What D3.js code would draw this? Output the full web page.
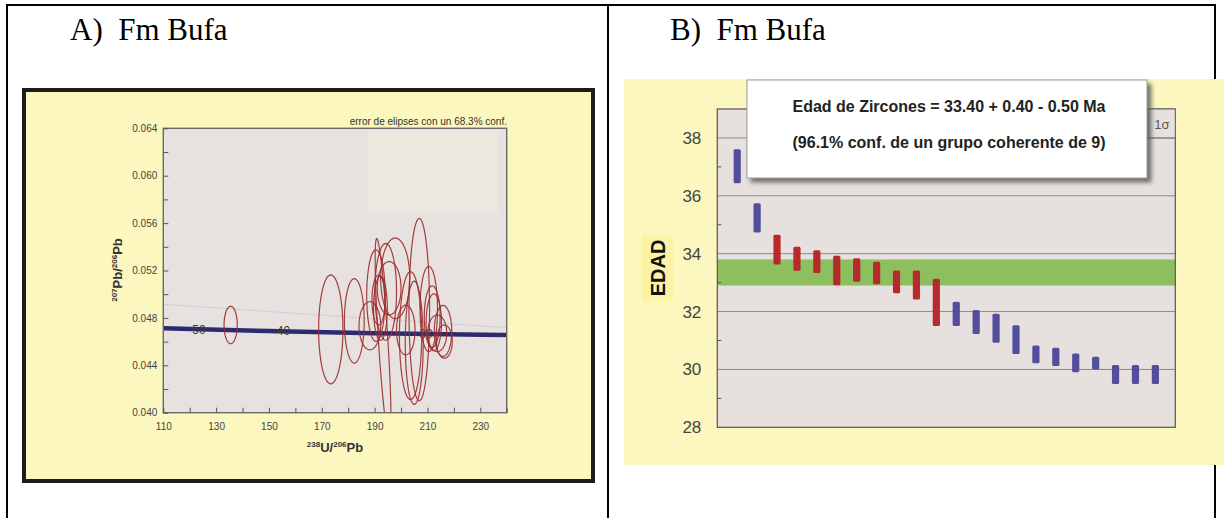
<!DOCTYPE html>
<html lang="en">
<head>
<meta charset="UTF-8">
<title>Fm Bufa</title>
<script src="https://d3js.org/d3.v7.min.js"></script>
<style>
    body { margin: 0; background: #fff; }
    svg { display: block; }
    .serif { font-family: "Liberation Serif", "Times New Roman", serif; }
    .sans { font-family: "Liberation Sans", Arial, sans-serif; }
</style>
</head>
<body>
<svg id="chart" width="1224" height="518"></svg>
<script>
    // ---- panel A: Tera-Wasserburg concordia ----
    const xTicksA = [110, 130, 150, 170, 190, 210, 230];
    const yTicksA = [0.040, 0.044, 0.048, 0.052, 0.056, 0.060, 0.064];

    const concordiaX = [110, 150, 190, 240];
    const concordiaY = [0.04712, 0.04689, 0.04670, 0.04656];
    const refLineX = [110, 240];
    const refLineY = [0.04915, 0.04717];

    const ageLabels = ["50", "40", "30"];
    const ageLabelX = [123.5, 155.5, 209.5];

    // ellipse centres, half-widths and correlation
    const ellX   = [135.5, 173.4, 182.3, 188.2, 190.5, 191.5, 194.2, 195.5, 197.8, 193.2, 192.2, 201.8, 203.6, 205.0, 206.9, 210.5, 211.8, 212.4, 213.7, 215.9, 216.4];
    const ellY   = [0.0474, 0.04703, 0.04775, 0.04734, 0.04988, 0.04951, 0.0502, 0.0505, 0.05134, 0.0462, 0.0488, 0.04698, 0.0465, 0.0459, 0.0487, 0.04875, 0.0481, 0.04763, 0.0467, 0.0469, 0.0460];
    const ellRx  = [2.5, 4.6, 3.75, 4.1, 3.5, 2.5, 4.1, 4.5, 5.5, 3.0, 2.6, 3.5, 4.2, 3.4, 3.9, 3.3, 3.0, 2.9, 3.6, 3.3, 3.0];
    const ellRy  = [0.00158, 0.0046, 0.00356, 0.00203, 0.00386, 0.0021, 0.00408, 0.00225, 0.0034, 0.0085, 0.0027, 0.0021, 0.0054, 0.0052, 0.0077, 0.0036, 0.0026, 0.0024, 0.00155, 0.00215, 0.0014];
    const ellRho = [0, 0, 0, 0, 0, 0, 0, 0, 0, -0.8, 0, 0, 0, 0, 0, 0, 0, 0, 0, 0, 0];

    // ---- panel B: ages ----
    const barLow  = [36.43, 34.73, 33.63, 33.41, 33.33, 32.91, 33.03, 32.94, 32.63, 32.42, 31.50, 31.50, 31.22, 30.92, 30.53, 30.21, 30.12, 29.90, 30.00, 29.50, 29.50, 29.50];
    const barHigh = [37.61, 35.74, 34.65, 34.24, 34.12, 33.93, 33.84, 33.72, 33.42, 33.42, 33.13, 32.34, 32.05, 31.92, 31.53, 30.83, 30.75, 30.55, 30.44, 30.15, 30.15, 30.15];
    const barUsed = [false, false, true, true, true, true, true, true, true, true, true, false, false, false, false, false, false, false, false, false, false, false];
    const meanAge = [32.9, 33.8];
    const yTicksB = [28, 30, 32, 34, 36, 38];
    const yMinorB = [29, 31, 33, 35, 37];
    const gridB = [30, 32, 34, 36, 38];

    const yellow = "#fbf7be";
    const svg = d3.select("#chart");

    const defs = svg.append("defs");
    const shadow = defs.append("filter").attr("id", "shadow")
        .attr("x", "-5%").attr("y", "-10%").attr("width", "115%").attr("height", "130%");
    shadow.append("feDropShadow").attr("dx", 4).attr("dy", 4)
        .attr("stdDeviation", 2).attr("flood-color", "#555").attr("flood-opacity", 0.8);
    defs.append("clipPath").attr("id", "clipA").append("rect")
        .attr("x", 163.3).attr("y", 128.3).attr("width", 343.4).attr("height", 284.4);

    // table borders
    const table = svg.append("g").attr("stroke", "#000").attr("stroke-width", 2);
    table.append("line").attr("x1", 7).attr("x2", 1216).attr("y1", 5).attr("y2", 5);
    table.append("line").attr("x1", 7).attr("x2", 7).attr("y1", 4).attr("y2", 518);
    table.append("line").attr("x1", 608).attr("x2", 608).attr("y1", 4).attr("y2", 518);
    table.append("line").attr("x1", 1215).attr("x2", 1215).attr("y1", 4).attr("y2", 518);

    svg.append("text").attr("class", "serif").attr("x", 70).attr("y", 40)
        .attr("font-size", 31).attr("xml:space", "preserve").text("A)  Fm Bufa");
    svg.append("text").attr("class", "serif").attr("x", 670).attr("y", 40)
        .attr("font-size", 31).attr("xml:space", "preserve").text("B)  Fm Bufa");

    // ================= panel A =================
    const gA = svg.append("g").attr("class", "sans");
    gA.append("rect").attr("x", 24).attr("y", 90).attr("width", 569).attr("height", 391)
        .attr("fill", yellow).attr("stroke", "#1c1c1c").attr("stroke-width", 4);

    const xA = d3.scaleLinear().domain([110, 240]).range([163.3, 506.7]);
    const yA = d3.scaleLinear().domain([0.040, 0.064]).range([412.7, 128.3]);

    gA.append("rect").attr("x", xA(110)).attr("y", yA(0.064))
        .attr("width", xA(240) - xA(110)).attr("height", yA(0.040) - yA(0.064))
        .attr("fill", "#e7e2df");
    gA.append("rect").attr("x", 368).attr("y", 131.7).attr("width", 130).attr("height", 81)
        .attr("fill", "#ebe9df");

    gA.append("text").attr("x", 507).attr("y", 125).attr("text-anchor", "end")
        .attr("font-size", 10).attr("fill", "#333").text("error de elipses con un 68.3% conf.");

    // faint reference line
    gA.append("path")
        .datum(d3.zip(refLineX, refLineY))
        .attr("d", d3.line().x(d => xA(d[0])).y(d => yA(d[1])))
        .attr("fill", "none").attr("stroke", "#c9c5de").attr("stroke-width", 1.2)
        .attr("stroke-dasharray", "2,1");

    // concordia band
    gA.append("path")
        .datum(d3.zip(concordiaX, concordiaY))
        .attr("d", d3.line().x(d => xA(d[0])).y(d => yA(d[1])).curve(d3.curveMonotoneX))
        .attr("fill", "none").attr("stroke", "#2d2a70").attr("stroke-width", 4.5);

    gA.selectAll(".age").data(ageLabels).join("text")
        .attr("x", (d, i) => xA(ageLabelX[i]))
        .attr("y", (d, i) => yA(d3.interpolateNumber(concordiaY[0], concordiaY[3])((ageLabelX[i] - 110) / 130)) + 4.5)
        .attr("text-anchor", "middle").attr("font-size", 12).attr("fill", "#3a3a3a")
        .text(d => d);

    // error ellipses
    const ellLine = d3.line().x(d => xA(d[0])).y(d => yA(d[1])).curve(d3.curveLinearClosed);
    const ellPts = i => d3.range(0, 72).map(k => {
        const t = k / 72 * 2 * Math.PI;
        const r = ellRho[i];
        return [ellX[i] + ellRx[i] * Math.cos(t),
                ellY[i] + ellRy[i] * (r * Math.cos(t) + Math.sqrt(1 - r * r) * Math.sin(t))];
    });
    gA.append("g").attr("clip-path", "url(#clipA)")
        .selectAll("path").data(ellX).join("path")
        .attr("d", (d, i) => ellLine(ellPts(i)))
        .attr("fill", "none").attr("stroke", "#9b2c2c").attr("stroke-width", 1.2)
        .attr("stroke-opacity", 0.9);

    // axes frame
    gA.append("rect").attr("x", xA(110)).attr("y", yA(0.064))
        .attr("width", xA(240) - xA(110)).attr("height", yA(0.040) - yA(0.064))
        .attr("fill", "none").attr("stroke", "#6a6a6a").attr("stroke-width", 1.4);

    const axA = gA.append("g").attr("transform", `translate(0,${yA(0.040)})`)
        .call(d3.axisBottom(xA).tickValues(d3.range(110, 241, 10)).tickSize(-5)
            .tickFormat(d => xTicksA.includes(d) ? d : ""));
    const ayA = gA.append("g").attr("transform", `translate(${xA(110)},0)`)
        .call(d3.axisLeft(yA).tickValues(d3.range(0.040, 0.0645, 0.002)).tickSize(-5)
            .tickFormat(d => yTicksA.some(v => Math.abs(v - d) < 1e-6) ? d3.format(".3f")(d) : ""));
    [axA, ayA].forEach(a => {
        a.select(".domain").remove();
        a.selectAll(".tick line").attr("stroke", "#555");
        a.selectAll("text").attr("font-family", "Liberation Sans, Arial, sans-serif")
            .attr("font-size", 10).attr("fill", "#444");
    });
    axA.selectAll("text").attr("dy", "1.45em");
    ayA.selectAll("text").attr("dx", "-0.3em");

    const xt = gA.append("text").attr("x", 335).attr("y", 452).attr("text-anchor", "middle")
        .attr("font-size", 13).attr("font-weight", "bold").attr("fill", "#333");
    xt.append("tspan").attr("font-size", 8).attr("dy", -5).text("238");
    xt.append("tspan").attr("dy", 5).text("U/");
    xt.append("tspan").attr("font-size", 8).attr("dy", -5).text("206");
    xt.append("tspan").attr("dy", 5).text("Pb");

    const yt = gA.append("text").attr("transform", "translate(122,270) rotate(-90)")
        .attr("text-anchor", "middle")
        .attr("font-size", 13).attr("font-weight", "bold").attr("fill", "#333");
    yt.append("tspan").attr("font-size", 8).attr("dy", -5).text("207");
    yt.append("tspan").attr("dy", 5).text("Pb/");
    yt.append("tspan").attr("font-size", 8).attr("dy", -5).text("206");
    yt.append("tspan").attr("dy", 5).text("Pb");

    // ================= panel B =================
    const gB = svg.append("g").attr("class", "sans");
    gB.append("rect").attr("x", 624).attr("y", 79).attr("width", 600).attr("height", 386)
        .attr("fill", yellow);

    const xB = d3.scaleLinear().domain([0, 23]).range([717.3, 1175.3]);
    const yB = d3.scaleLinear().domain([28, 39]).range([427.3, 109]);

    gB.append("rect").attr("x", xB(0)).attr("y", yB(39))
        .attr("width", xB(23) - xB(0)).attr("height", yB(28) - yB(39))
        .attr("fill", "#e6e1de");

    gB.selectAll(".grid").data(gridB).join("line")
        .attr("x1", xB(0)).attr("x2", xB(23))
        .attr("y1", d => yB(d)).attr("y2", d => yB(d))
        .attr("stroke", "#8d8787").attr("stroke-width", 1);

    gB.append("rect").attr("x", xB(0)).attr("y", yB(meanAge[1]))
        .attr("width", xB(23) - xB(0)).attr("height", yB(meanAge[0]) - yB(meanAge[1]))
        .attr("fill", "#8dbf5e");

    gB.selectAll(".bar").data(barLow).join("rect")
        .attr("x", (d, i) => xB(i + 1) - 3.6)
        .attr("y", (d, i) => yB(barHigh[i]))
        .attr("width", 7.2)
        .attr("height", (d, i) => yB(d) - yB(barHigh[i]))
        .attr("rx", 1.5)
        .attr("fill", (d, i) => barUsed[i] ? "#b8292b" : "#524d9c");

    gB.append("rect").attr("x", xB(0)).attr("y", yB(39))
        .attr("width", xB(23) - xB(0)).attr("height", yB(28) - yB(39))
        .attr("fill", "none").attr("stroke", "#555").attr("stroke-width", 1.2);

    const ayB = gB.append("g").attr("transform", `translate(${xB(0)},0)`)
        .call(d3.axisLeft(yB).tickValues(yTicksB).tickSize(0).tickPadding(16));
    ayB.select(".domain").remove();
    ayB.selectAll("text").attr("font-family", "Liberation Sans, Arial, sans-serif")
        .attr("font-size", 17).attr("fill", "#444");
    gB.selectAll(".minor").data(yMinorB).join("line")
        .attr("x1", xB(0)).attr("x2", xB(0) + 4)
        .attr("y1", d => yB(d)).attr("y2", d => yB(d))
        .attr("stroke", "#555");

    // EDAD label
    gB.append("rect").attr("x", 642).attr("y", 235).attr("width", 31).attr("height", 66)
        .attr("fill", "#fcf2a6");
    gB.append("text").attr("transform", "translate(665,268) rotate(-90)")
        .attr("text-anchor", "middle").attr("font-size", 20).attr("font-weight", "bold")
        .attr("fill", "#111").text("EDAD");

    // 1 sigma tag
    gB.append("rect").attr("x", 1148).attr("y", yB(39)).attr("width", xB(23) - 1148)
        .attr("height", yB(38) - yB(39)).attr("fill", "#e6e1de").attr("stroke", "#666");
    gB.append("text").attr("x", 1162).attr("y", 129).attr("text-anchor", "middle")
        .attr("font-size", 13).attr("fill", "#555").text("1σ");

    // result box
    gB.append("rect").attr("x", 747).attr("y", 80).attr("width", 400).attr("height", 98)
        .attr("fill", "#fff").attr("stroke", "#9a9a9a").attr("filter", "url(#shadow)");
    gB.append("text").attr("x", 949).attr("y", 112).attr("text-anchor", "middle")
        .attr("font-size", 16).attr("font-weight", "bold").attr("fill", "#222")
        .text("Edad de Zircones = 33.40 + 0.40 - 0.50 Ma");
    gB.append("text").attr("x", 949).attr("y", 148).attr("text-anchor", "middle")
        .attr("font-size", 16).attr("font-weight", "bold").attr("fill", "#222")
        .text("(96.1% conf. de un grupo coherente de 9)");
</script>
</body>
</html>
